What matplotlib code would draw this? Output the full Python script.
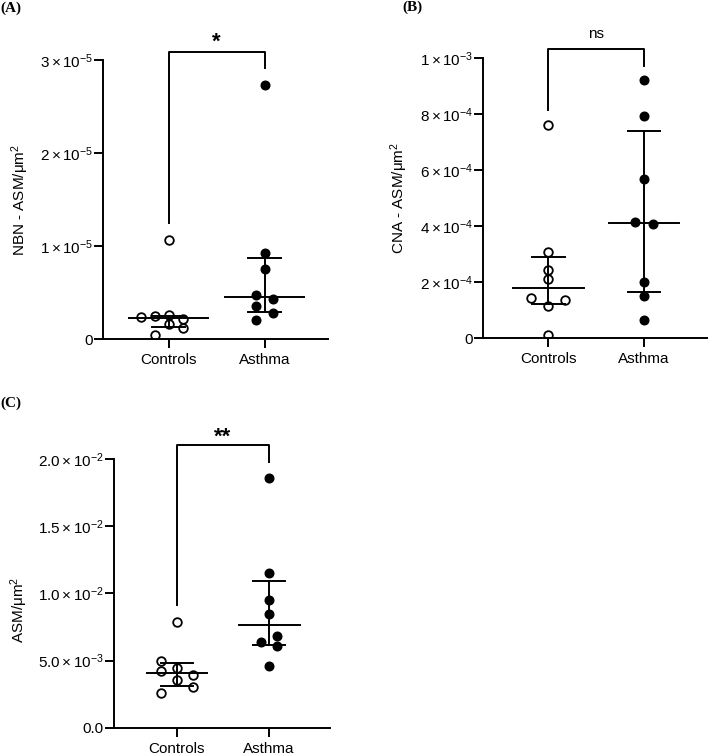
import numpy as np
import matplotlib
matplotlib.use('Agg')
import matplotlib.pyplot as plt

plt.rcParams['font.family'] = ['Liberation Sans', 'DejaVu Sans']
plt.rcParams['mathtext.fontset'] = 'custom'
plt.rcParams['mathtext.rm'] = 'Liberation Sans'
plt.rcParams['mathtext.it'] = 'Liberation Sans:italic'
plt.rcParams['mathtext.bf'] = 'Liberation Sans:bold'

groups = ['Controls', 'Asthma']

# panel A: NBN - ASM/um2 (x1e-5)
a_ctrl = np.array([1.067, 0.243, 0.250, 0.258, 0.218, 0.165, 0.122, 0.050]) * 1e-5
a_ctrl_dx = [0, -0.29, -0.145, 0, 0.145, 0, 0.145, -0.145]
a_asth = np.array([2.732, 0.924, 0.755, 0.476, 0.430, 0.362, 0.279, 0.208]) * 1e-5
a_asth_dx = [0, 0, 0, -0.087, 0.087, -0.087, 0.087, -0.087]
a_median = np.array([0.226, 0.451]) * 1e-5
a_q1 = np.array([0.136, 0.297]) * 1e-5
a_q3 = np.array([0.250, 0.877]) * 1e-5

# panel B: CNA - ASM/um2 (x1e-4)
b_ctrl = np.array([7.62, 3.10, 2.44, 2.12, 1.45, 1.37, 1.17, 0.11]) * 1e-4
b_ctrl_dx = [0, 0, 0, 0, -0.18, 0.17, 0, 0]
b_asth = np.array([9.23, 7.95, 5.70, 4.14, 4.08, 2.02, 1.51, 0.65]) * 1e-4
b_asth_dx = [0, 0, 0, -0.09, 0.09, 0, 0, 0]
b_median = np.array([1.79, 4.13]) * 1e-4
b_q1 = np.array([1.21, 1.64]) * 1e-4
b_q3 = np.array([2.92, 7.40]) * 1e-4

# panel C: ASM/um2 (x1e-2)
c_ctrl = np.array([0.790, 0.497, 0.447, 0.425, 0.393, 0.355, 0.301, 0.256]) * 1e-2
c_ctrl_dx = [0, -0.17, 0, -0.17, 0.17, 0, 0.17, -0.17]
c_asth = np.array([1.858, 1.150, 0.952, 0.845, 0.683, 0.641, 0.609, 0.462]) * 1e-2
c_asth_dx = [0, 0, 0, 0, 0.086, -0.086, 0.086, 0]
c_median = np.array([0.407, 0.765]) * 1e-2
c_q1 = np.array([0.311, 0.616]) * 1e-2
c_q3 = np.array([0.480, 1.096]) * 1e-2

# significance brackets: left end, top, right end, label
sig_a = (1.249e-5, 3.09e-5, 2.914e-5, '*')
sig_b = (0.815e-3, 1.032e-3, 0.9725e-3, 'ns')
sig_c = (0.914e-2, 2.107e-2, 1.982e-2, '**')

fig = plt.figure(figsize=(7.09, 7.56), dpi=100)


def panel(rect, ctrl, ctrl_dx, asth, asth_dx, med, q1, q3, ymax, yticks, yticklabels,
          ylabel, ylabel_xy, sig, sig_dy, sig_size, half_med):
    ax = fig.add_axes(rect)
    lw = 1.4
    ax.plot(np.array(ctrl_dx), ctrl, 'o', ms=6.2, mfc='none', mec='black', mew=1.3, zorder=3)
    ax.plot(1 + np.array(asth_dx), asth, 'o', ms=6.2, mfc='black', mec='black', zorder=3)
    for i in range(2):
        ax.plot([i - half_med, i + half_med], [med[i], med[i]], color='black', lw=lw, zorder=4)
        ax.plot([i - 0.17, i + 0.17], [q1[i], q1[i]], color='black', lw=lw, zorder=4)
        ax.plot([i - 0.17, i + 0.17], [q3[i], q3[i]], color='black', lw=lw, zorder=4)
        ax.plot([i, i], [q1[i], q3[i]], color='black', lw=lw, zorder=4)
    ax.set_xlim(-0.68, 1.66)
    ax.set_ylim(0, ymax)
    ax.set_xticks([0, 1])
    ax.set_xticklabels(groups, fontsize=11)
    ax.set_yticks(yticks)
    ax.set_yticklabels(yticklabels, fontsize=11)
    ax.spines['top'].set_visible(False)
    ax.spines['right'].set_visible(False)
    ax.spines['left'].set_linewidth(1.4)
    ax.spines['bottom'].set_linewidth(1.4)
    ax.tick_params(axis='both', length=6.5, width=1.4, color='black')
    ax.tick_params(axis='y', pad=1)
    ax.set_ylabel(ylabel, fontsize=11, va='center', ha='center')
    ax.yaxis.set_label_coords(*ylabel_xy)
    ax.plot([0, 0, 1, 1], [sig[0], sig[1], sig[1], sig[2]], color='black', lw=lw, clip_on=False)
    weight = 'bold' if '*' in sig[3] else 'normal'
    ax.text(0.5, sig[1] + sig_dy, sig[3], ha='center', va='center', fontsize=sig_size,
            fontweight=weight)
    return ax


panel([0.1457, 0.5512, 0.3169, 0.3694], a_ctrl, a_ctrl_dx, a_asth, a_asth_dx,
      a_median, a_q1, a_q3, 3e-5, [0, 1e-5, 2e-5, 3e-5],
      ['0', r'$1\times10^{-5}$', r'$2\times10^{-5}$', r'$3\times10^{-5}$'],
      r'NBN - ASM/μm$^2$', (-0.371, 0.5), sig_a, 0.10e-5, 16, 0.415)

panel([0.6817, 0.5525, 0.3155, 0.3704], b_ctrl, b_ctrl_dx, b_asth, b_asth_dx,
      b_median, b_q1, b_q3, 1e-3, [0, 2e-4, 4e-4, 6e-4, 8e-4, 1e-3],
      ['0', r'$2\times10^{-4}$', r'$4\times10^{-4}$', r'$6\times10^{-4}$',
       r'$8\times10^{-4}$', r'$1\times10^{-3}$'],
      r'CNA - ASM/μm$^2$', (-0.377, 0.5), sig_b, 0.055e-3, 11, 0.37)

panel([0.1612, 0.0374, 0.3042, 0.3551], c_ctrl, c_ctrl_dx, c_asth, c_asth_dx,
      c_median, c_q1, c_q3, 2e-2, [0, 0.5e-2, 1e-2, 1.5e-2, 2e-2],
      ['0.0', r'$5.0\times10^{-3}$', r'$1.0\times10^{-2}$', r'$1.5\times10^{-2}$',
       r'$2.0\times10^{-2}$'],
      r'ASM/μm$^2$', (-0.442, 0.44), sig_c, 0.06e-2, 16, 0.33)

for label, x, y in [('(A)', 0.0, 0.989), ('(B)', 0.567, 0.990), ('(C)', 0.0, 0.466)]:
    fig.text(x, y, label, fontsize=11, fontweight='bold', family='Liberation Serif',
             ha='left', va='center')

fig.savefig('out.png', dpi=100)
